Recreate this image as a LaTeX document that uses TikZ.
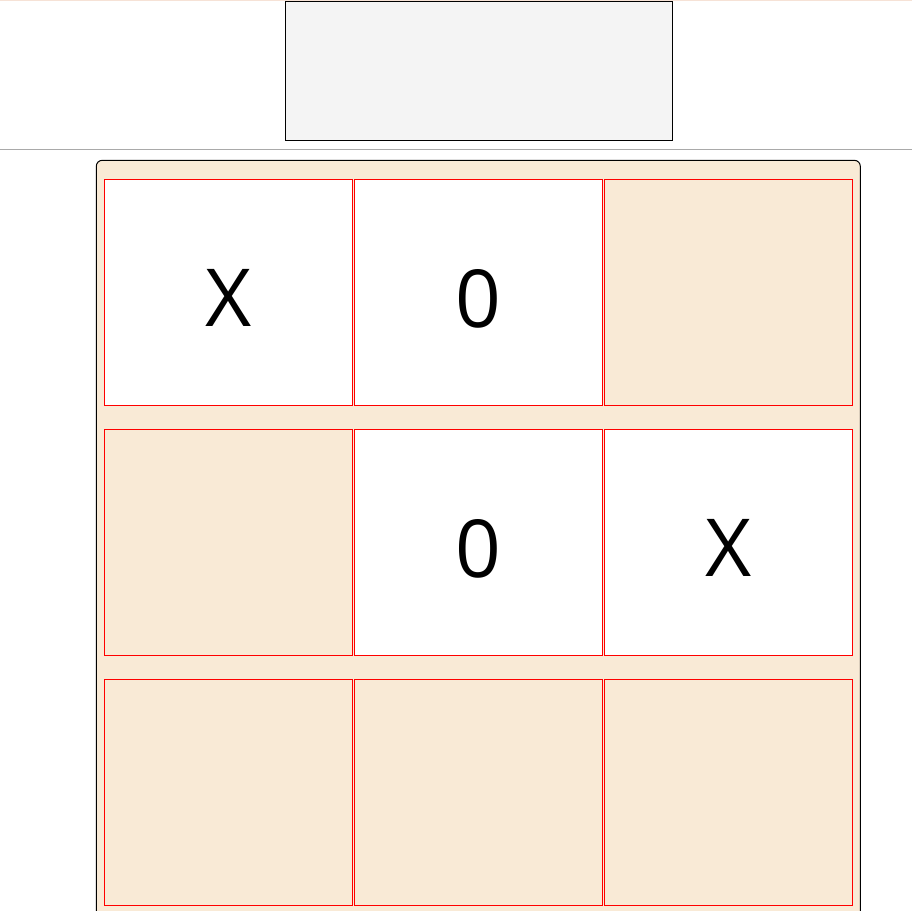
\documentclass[tikz,border=0pt]{standalone}
\usepackage{fontspec}
\setmainfont{Open Sans}
\definecolor{board}{HTML}{F9EAD6}
\definecolor{topline}{HTML}{F6E2D6}
\definecolor{panel}{HTML}{F4F4F4}
\definecolor{sep}{HTML}{A9A9A9}
\tikzset{
  cellbox/.style={draw=red, line width=1pt, minimum width=248pt, minimum height=226pt, inner sep=0pt, anchor=north west},
  filled/.style={fill=white},
  mark letter/.style={font=\fontsize{80}{96}\selectfont, text=black}
}
\begin{document}
\begin{tikzpicture}[x=1pt,y=-1pt]
\useasboundingbox (0,0) rectangle (912,910);
\begin{scope}
\clip (0,0) rectangle (912,910);
\draw[topline, line width=1.2pt] (0,0.5) -- (912,0.5);
\node[draw=black, fill=panel, line width=1pt, minimum width=387pt, minimum height=139pt, inner sep=0pt, anchor=north west] (panel) at (284.6,0.9) {};
\draw[sep, line width=1.2pt] (0,149.2) -- (912,149.2);
\draw[black, fill=board, line width=1pt, rounded corners=6pt] (96.3,930) -- (96.3,160.3) -- (860.3,160.3) -- (860.3,930);
\node[cellbox, filled] (c11) at (103.9,178.9) {};
\node[cellbox, filled] (c12) at (353.9,178.9) {};
\node[cellbox] (c13) at (603.9,178.9) {};
\node[cellbox] (c21) at (103.9,428.9) {};
\node[cellbox, filled] (c22) at (353.9,428.9) {};
\node[cellbox, filled] (c23) at (603.9,428.9) {};
\node[cellbox] (c31) at (103.9,678.9) {};
\node[cellbox] (c32) at (353.9,678.9) {};
\node[cellbox] (c33) at (603.9,678.9) {};
\node[mark letter] (t11) at ([yshift=-6pt]c11.center) {X};
\node[mark letter] (t12) at ([yshift=-6pt]c12.center) {0};
\node[mark letter] (t22) at ([yshift=-6pt]c22.center) {0};
\node[mark letter] (t23) at ([yshift=-6pt]c23.center) {X};
\end{scope}
\end{tikzpicture}
\end{document}
